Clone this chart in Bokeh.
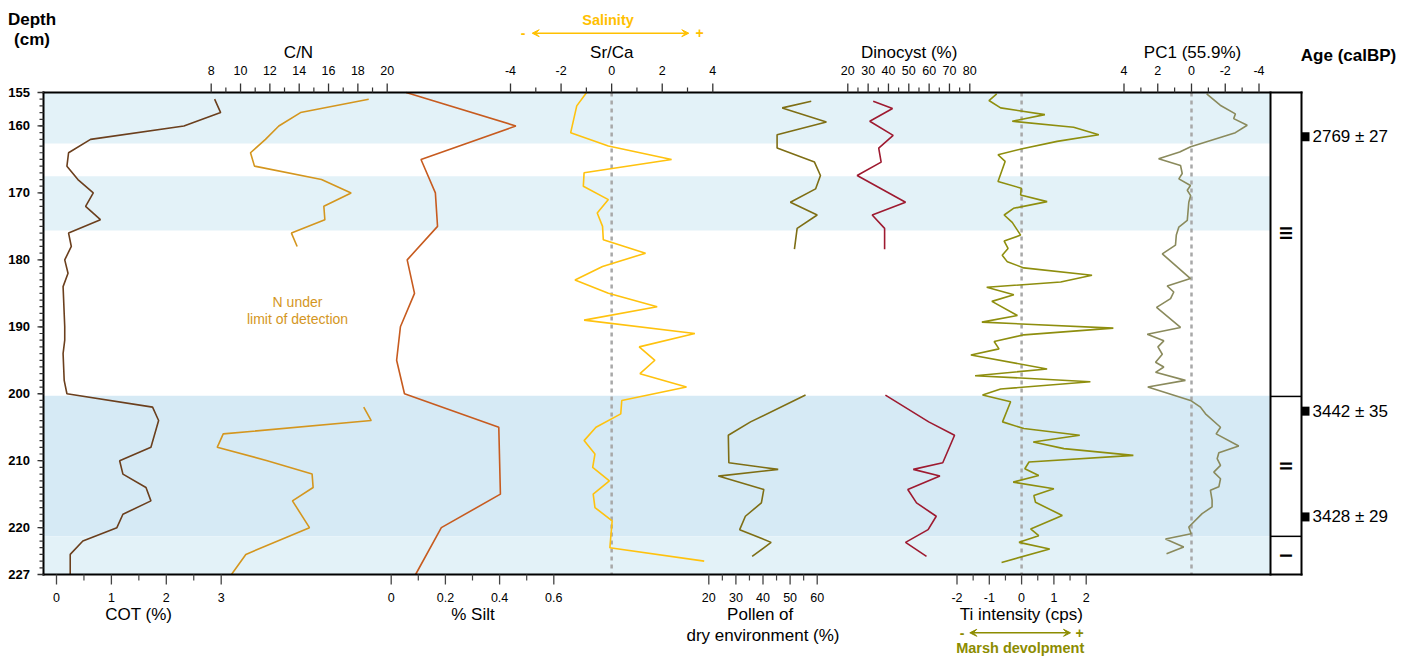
import math
from bokeh.plotting import figure
from bokeh.models import Range1d, Arrow, VeeHead
from bokeh.core.properties import value
from bokeh.embed import file_html
from bokeh.resources import INLINE

# ---------------- data ----------------
cot_depth = [156, 158, 160, 162, 164, 166, 168, 170, 172, 174, 176, 178, 180, 182, 184, 186, 188, 190,
             192, 194, 196, 198, 200, 202, 204, 208, 210, 212, 214, 216, 218, 220, 222, 224, 227]
cot_val = [2.88, 2.99, 2.32, 0.62, 0.22, 0.19, 0.39, 0.67, 0.53, 0.80, 0.22, 0.27, 0.15, 0.21, 0.12, 0.13, 0.14, 0.15,
           0.15, 0.12, 0.13, 0.14, 0.19, 1.75, 1.86, 1.72, 1.15, 1.21, 1.63, 1.72, 1.21, 1.10, 0.48, 0.25, 0.25]

cn_upper_depth = [156, 158, 160, 162, 164, 166, 168, 170, 172, 174, 176, 178]
cn_upper_val = [18.74, 14.09, 12.61, 11.70, 10.68, 10.95, 15.52, 17.54, 15.68, 15.75, 13.47, 13.86]
cn_lower_depth = [202, 204, 206, 208, 210, 212, 214, 216, 220, 224, 227]
cn_lower_val = [18.40, 18.91, 8.82, 8.41, 11.82, 14.88, 14.95, 13.54, 14.70, 10.36, 9.38]

silt_depth = [155, 160, 165, 170, 175, 180, 185, 190, 195, 200, 205, 215, 220, 227]
silt_val = [0.055, 0.46, 0.11, 0.163, 0.171, 0.059, 0.086, 0.034, 0.02, 0.049, 0.397, 0.403, 0.185, 0.09]

srca_depth = [155, 157, 161, 163, 165, 167, 169, 171, 173, 175, 177, 179, 181, 183, 185, 187, 189,
              191, 193, 195, 197, 199, 201, 203, 205, 207, 209, 211, 213, 215, 217, 219, 223, 225]
srca_val = [-0.99, -1.38, -1.62, -0.13, 2.37, -1.09, -1.12, -0.13, -0.57, -0.36, -0.33, 1.34, -0.36, -1.45, -0.13,
            1.80, -1.09, 3.29, 1.09, 1.71, 1.12, 2.96, 0.40, 0.36, -0.62, -1.09, -0.66, -0.75, -0.09, -0.73,
            -0.66, 0.02, -0.07, 3.66]

pollen_upper_depth = [156.3, 157.3, 159.4, 161.3, 163.3, 165.4, 167.4, 169.4, 171.4, 173.3, 175.3, 178.4]
pollen_upper_val = [57.8, 47.1, 63.4, 45.2, 45.2, 59.0, 61.2, 59.4, 50.1, 60.0, 52.6, 51.6]
pollen_lower_depth = [200.2, 204.2, 206.2, 210.3, 211.3, 212.3, 214.3, 216.3, 218.3, 220.3, 222.2, 224.3]
pollen_lower_val = [55.7, 35.4, 27.2, 27.4, 45.6, 23.5, 40.3, 39.4, 33.5, 31.4, 43.0, 36.0]

dino_upper_depth = [156.3, 157.4, 159.3, 161.4, 163.3, 165.4, 167.4, 171.4, 173.3, 175.3, 178.4]
dino_upper_val = [32.5, 42.0, 30.8, 42.3, 35.2, 36.4, 24.6, 48.4, 32.0, 38.1, 38.1]
dino_lower_depth = [200.2, 204.2, 206.2, 210.3, 211.3, 212.3, 214.3, 216.3, 218.3, 220.3, 222.2, 224.3]
dino_lower_val = [38.5, 59.8, 72.5, 66.7, 52.2, 65.3, 49.5, 53.8, 63.5, 59.5, 48.4, 58.7]

ti_depth = [155.2, 156.2, 157.3, 158.3, 159.3, 160.2, 161.3, 162.3, 163.4, 164.3, 165.3, 168.3, 169.3, 170.3,
            171.3, 172.3, 173.3, 174.4, 176.3, 177.2, 178.3, 179.3, 180.3, 181.2, 182.3, 183.3, 184.1, 185.2,
            186.2, 188.3, 189.3, 190.2, 191.2, 192.2, 193.3, 194.2, 196.3, 197.3, 198.2, 199.3, 200.2, 201.2,
            204.2, 205.2, 206.2, 207.2, 208.2, 209.2, 210.2, 211.2, 212.2, 213.2, 214.2, 215.2, 216.2, 218.2,
            220.2, 221.2, 222.2, 223.2, 225.2]
ti_val = [-0.77, -1.01, -0.65, 0.72, -0.29, 1.61, 2.39, 1.10, 0.02, -0.73, -0.51, -0.73, -0.01, -0.03,
          0.79, -0.25, -0.54, -0.29, -0.03, -0.54, -0.42, -0.60, -0.44, 0.07, 2.18, 1.21, -1.08, -0.24,
          -0.92, -0.13, -1.23, 2.84, 0.07, -0.85, -0.70, -1.57, 0.79, -1.44, 2.13, -0.65, -1.21, -0.34,
          -0.59, 0.07, 1.80, 0.36, 1.31, 3.46, 0.23, 0.10, 0.53, -0.26, 1.00, 0.38, 0.43, 1.26,
          0.28, 0.53, -0.08, 0.87, -0.62]

pc1_depth = [155.2, 156.9, 158.2, 158.9, 159.9, 161.0, 163.1, 163.9, 164.9, 165.9, 167.1, 167.9, 168.9, 169.6,
             170.4, 171.4, 174.1, 175.1, 176.3, 177.8, 179.1, 182.8, 183.9, 184.8, 185.8, 187.1, 190.1, 191.1,
             192.1, 193.0, 194.1, 195.3, 196.0, 196.8, 198.0, 199.0, 201.0, 202.0, 203.0, 205.0, 206.0, 207.8,
             208.8, 209.7, 210.7, 211.7, 212.7, 213.9, 214.4, 215.9, 216.9, 217.9, 219.9, 220.9, 221.7, 222.9,
             223.9]
pc1_val = [-0.9, -1.7, -2.6, -2.5, -3.3, -2.6, 0.05, 0.7, 1.95, 0.65, 0.55, 0.75, 0.06, 0.25,
           0.05, 0.16, 0.25, 0.75, 0.9, 0.95, 1.73, 0.06, 1.44, 1.05, 1.24, 2.07, 0.65, 2.62,
           1.64, 1.99, 1.73, 2.13, 1.64, 2.13, 0.36, 2.59, 0.06, -0.53, -0.83, -1.72, -1.46, -2.8,
           -1.62, -1.52, -1.72, -1.32, -1.72, -1.62, -1.12, -1.22, -1.22, -0.63, 0.16, 0.02, 1.54, 0.46,
           1.48]

# tick values of each track
cn_ticks, cn_minor = [8, 10, 12, 14, 16, 18, 20], [9, 11, 13, 15, 17, 19]
srca_ticks, srca_minor = [-4, -2, 0, 2, 4], [-3, -1, 1, 3]
dino_ticks, dino_minor = [20, 30, 40, 50, 60, 70, 80], [25, 35, 45, 55, 65, 75]
pc1_ticks, pc1_minor = [4, 2, 0, -2, -4], [3, 1, -1, -3]
cot_ticks, cot_minor = [0, 1, 2, 3], [0.5, 1.5, 2.5]
silt_ticks, silt_minor = [0, 0.2, 0.4, 0.6], [0.1, 0.3, 0.5]
pollen_ticks, pollen_minor = [20, 30, 40, 50, 60], [25, 35, 45, 55]
ti_ticks, ti_minor = [-2, -1, 0, 1, 2], [-1.5, -0.5, 0.5, 1.5]
depth_ticks = [155, 160, 170, 180, 190, 200, 210, 220, 227]
depth_minor = list(range(155, 228))

band_top = [155, 167.5, 200.3, 221.3]
band_bottom = [162.6, 175.6, 221.3, 227]
zone_bounds = [200.4, 221.3]
zone_names = ["III", "II", "I"]
zone_label_depth = [176.0, 210.8, 224.2]
age_depth = [161.6, 202.6, 218.4]
age_labels = ["2769 ± 27", "3442 ± 35", "3428 ± 29"]

# ---------------- layout (page pixels) ----------------
W, H = 1405, 656
K = 10
BOX_L, BOX_R, ZONE_R = 43, 1270, 1301
Y_TOP, Y_BOT = 92, 574
D_TOP, D_BOT = 155, 227
PX_PER_CM = (Y_BOT - Y_TOP) / (D_BOT - D_TOP)
FONT = "Liberation Sans"


def mx(px):
    return px * K


def my(py):
    return D_TOP + (py - Y_TOP) / PX_PER_CM


p = figure(width=W, height=H, x_range=Range1d(0, W * K), y_range=Range1d(my(H), my(0)),
           x_axis_location=None, y_axis_location=None, toolbar_location=None,
           output_backend="svg", title=None, min_border=0)
p.grid.grid_line_color = None
p.outline_line_color = None
p.background_fill_color = "white"
p.border_fill_color = "white"

# track placement: (value1, page_x1, value2, page_x2)
TRACKS = {
    "cn": (8, 210.7, 20, 386.7),
    "srca": (-4, 510.0, 4, 712.3),
    "dino": (20, 847.3, 80, 969.3),
    "pc1": (4, 1123.5, -4, 1258.5),
    "cot": (0, 56.0, 3, 220.7),
    "silt": (0, 390.7, 0.6, 553.3),
    "pollen": (20, 708.3, 60, 816.7),
    "ti": (-2, 956.5, 2, 1085.7),
}
for name, (v1, x1, v2, x2) in TRACKS.items():
    m1, m2 = mx(x1), mx(x2)
    b = (m2 - m1) / (v2 - v1)
    p.extra_x_ranges[name] = Range1d(v1 + (0 - m1) / b, v1 + (W * K - m1) / b)


def txt(xs, ys, texts, size="17px", align="center", bold=False, color="black", rng=None, angle=0.0):
    kw = dict(x=xs, y=ys, text=texts, text_align=align, text_baseline="middle", text_font=value(FONT),
              text_font_size=size, text_color=color, text_font_style="bold" if bold else "normal", angle=angle)
    if rng:
        kw["x_range_name"] = rng
    p.text(**kw)


# background bands
band_colors = ["#E3F2F8", "#E3F2F8", "#D6EAF5", "#E3F2F8"]
p.quad(left=mx(BOX_L), right=mx(BOX_R), top=band_top, bottom=band_bottom, fill_color=band_colors, line_color=None)

# dashed zero lines
for name in ["srca", "ti", "pc1"]:
    p.segment(x0=[0], x1=[0], y0=[D_TOP], y1=[D_BOT], x_range_name=name,
              line_color="#A8A8A8", line_width=2.5, line_dash="4 4")

LW = 1.6
p.line(cot_val, cot_depth, x_range_name="cot", line_color="#6B3F1D", line_width=LW)
p.line(cn_upper_val, cn_upper_depth, x_range_name="cn", line_color="#D4961E", line_width=LW)
p.line(cn_lower_val, cn_lower_depth, x_range_name="cn", line_color="#D4961E", line_width=LW)
p.line(silt_val, silt_depth, x_range_name="silt", line_color="#C75B1F", line_width=LW)
p.line(srca_val, srca_depth, x_range_name="srca", line_color="#FFC20E", line_width=LW)
p.line(pollen_upper_val, pollen_upper_depth, x_range_name="pollen", line_color="#7E6E14", line_width=LW)
p.line(pollen_lower_val, pollen_lower_depth, x_range_name="pollen", line_color="#7E6E14", line_width=LW)
p.line(dino_upper_val, dino_upper_depth, x_range_name="dino", line_color="#9E1A30", line_width=LW)
p.line(dino_lower_val, dino_lower_depth, x_range_name="dino", line_color="#9E1A30", line_width=LW)
p.line(ti_val, ti_depth, x_range_name="ti", line_color="#8E8E0E", line_width=LW)
p.line(pc1_val, pc1_depth, x_range_name="pc1", line_color="#8A8A5C", line_width=LW)

# frame / zone column
p.segment(x0=[mx(BOX_L), mx(BOX_L), mx(BOX_L), mx(BOX_R), mx(ZONE_R)],
          x1=[mx(ZONE_R), mx(ZONE_R), mx(BOX_L), mx(BOX_R), mx(ZONE_R)],
          y0=[D_TOP, D_BOT, D_TOP, D_TOP, D_TOP], y1=[D_TOP, D_BOT, D_BOT, D_BOT, D_BOT],
          line_color="black", line_width=2, line_cap="square")
p.segment(x0=[mx(BOX_R)] * 2, x1=[mx(ZONE_R)] * 2, y0=zone_bounds, y1=zone_bounds, line_color="black",
          line_width=1.5)
zc = mx((BOX_R + ZONE_R) / 2)
txt([zc] * 3, zone_label_depth, zone_names, size="17px", bold=True, angle=math.pi / 2)


def fmt(v):
    return "{:g}".format(v)


TICK_C = "#333333"


# top axes
def top_axis(name, majors, minors):
    p.segment(x0=majors, x1=majors, y0=[D_TOP] * len(majors), y1=[my(Y_TOP - 9)] * len(majors),
              x_range_name=name, line_color=TICK_C, line_width=1.3)
    p.segment(x0=minors, x1=minors, y0=[D_TOP] * len(minors), y1=[my(Y_TOP - 5)] * len(minors),
              x_range_name=name, line_color=TICK_C, line_width=1.2)
    txt(majors, [my(70)] * len(majors), [fmt(v) for v in majors], size="12.5px", rng=name)


def bottom_axis(name, majors, minors):
    p.segment(x0=majors, x1=majors, y0=[D_BOT] * len(majors), y1=[my(Y_BOT + 10)] * len(majors),
              x_range_name=name, line_color="#444444", line_width=1.3)
    p.segment(x0=minors, x1=minors, y0=[D_BOT] * len(minors), y1=[my(Y_BOT + 6)] * len(minors),
              x_range_name=name, line_color="#444444", line_width=1.2)
    txt(majors, [my(596.5)] * len(majors), [fmt(v) for v in majors], size="12.5px", rng=name)


top_axis("cn", cn_ticks, cn_minor)
top_axis("srca", srca_ticks, srca_minor)
top_axis("dino", dino_ticks, dino_minor)
top_axis("pc1", pc1_ticks, pc1_minor)
bottom_axis("cot", cot_ticks, cot_minor)
bottom_axis("silt", silt_ticks, silt_minor)
bottom_axis("pollen", pollen_ticks, pollen_minor)
bottom_axis("ti", ti_ticks, ti_minor)

# depth axis (left)
p.segment(x0=[mx(BOX_L - 6)] * len(depth_ticks), x1=[mx(BOX_L)] * len(depth_ticks), y0=depth_ticks,
          y1=depth_ticks, line_color=TICK_C, line_width=1.3)
p.segment(x0=[mx(BOX_L - 4)] * len(depth_minor), x1=[mx(BOX_L)] * len(depth_minor), y0=depth_minor,
          y1=depth_minor, line_color=TICK_C, line_width=1.2)
txt([mx(29.5)] * len(depth_ticks), depth_ticks, [str(d) for d in depth_ticks], size="13px", align="right",
    bold=True)

# age axis (right)
p.segment(x0=[mx(ZONE_R)] * len(age_depth), x1=[mx(ZONE_R + 8)] * len(age_depth), y0=age_depth, y1=age_depth,
          line_color="black", line_width=9, line_cap="butt")
txt([mx(1312)] * len(age_depth), age_depth, age_labels, size="17px", align="left")

# titles
txt([mx(31.5)], [my(19)], ["Depth"], bold=True)
txt([mx(31.5)], [my(39)], ["(cm)"], bold=True)
txt([mx(1348)], [my(55)], ["Age (calBP)"], bold=True)
txt([mx(298), mx(611.3), mx(908.7), mx(1192)], [my(52)] * 4, ["C/N", "Sr/Ca", "Dinocyst (%)", "PC1 (55.9%)"])
txt([mx(138.3), mx(472.5), mx(759.7), mx(1020.8)], [my(614)] * 4,
    ["COT (%)", "% Silt", "Pollen of", "Ti intensity (cps)"])
txt([mx(762.5)], [my(634.5)], ["dry environment (%)"])
txt([mx(297), mx(297)], [my(301.7), my(318.3)], ["N under", "limit of detection"], size="14px", color="#D4961E")

SAL = "#FFC000"
txt([mx(607.5)], [my(19)], ["Salinity"], size="14.5px", bold=True, color=SAL)
txt([mx(522.7), mx(699)], [my(32.5)] * 2, ["-", "+"], size="14px", bold=True, color=SAL)
p.add_layout(Arrow(x_start=mx(531.7), y_start=my(32.7), x_end=mx(688.3), y_end=my(32.7),
                   start=VeeHead(size=7, line_color=SAL, fill_color=SAL),
                   end=VeeHead(size=7, line_color=SAL, fill_color=SAL), line_color=SAL, line_width=1.5))

MARSH = "#8C8C00"
txt([mx(1019.7)], [my(647.3)], ["Marsh devolpment"], size="14.5px", bold=True, color=MARSH)
txt([mx(961.7), mx(1079)], [my(632)] * 2, ["-", "+"], size="14px", bold=True, color=MARSH)
p.add_layout(Arrow(x_start=mx(969.3), y_start=my(632.3), x_end=mx(1070), y_end=my(632.3),
                   start=VeeHead(size=7, line_color=MARSH, fill_color=MARSH),
                   end=VeeHead(size=7, line_color=MARSH, fill_color=MARSH), line_color=MARSH, line_width=1.5))

open("out.html", "w").write(file_html(p, INLINE))
